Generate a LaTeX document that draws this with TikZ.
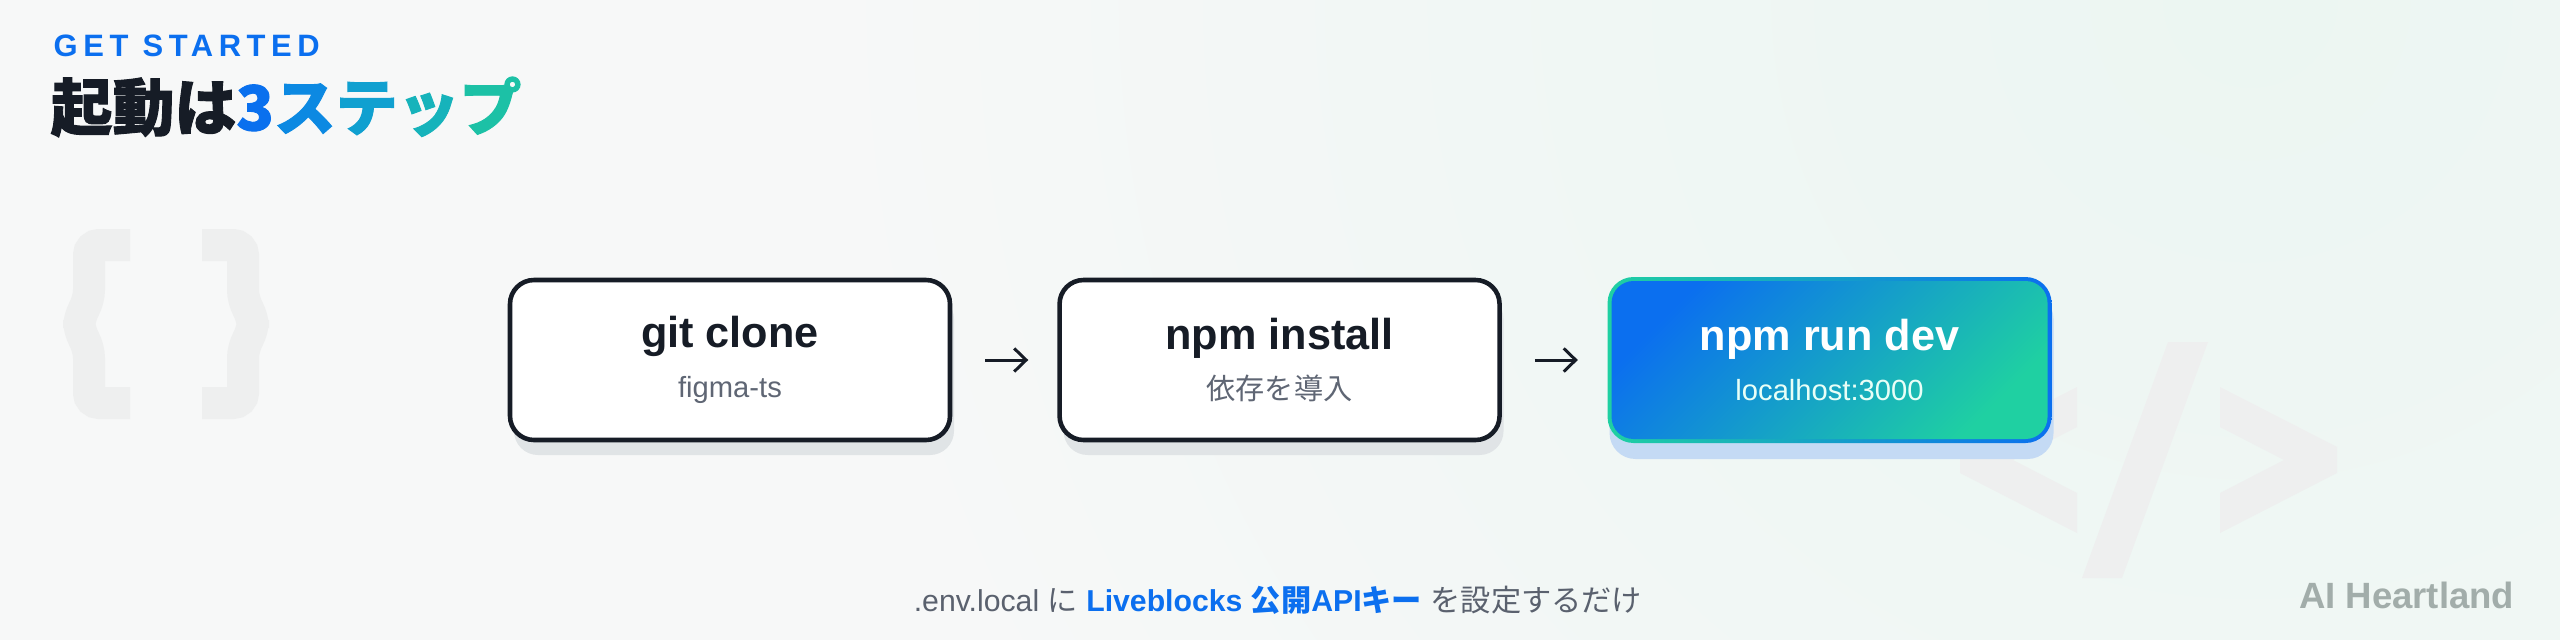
\documentclass[tikz,border=0pt]{standalone}
\usepackage{fontspec}
\setmainfont{Liberation Sans}
\newfontfamily\cjk{Noto Sans CJK JP}
\newfontfamily\cjkheavy{Noto Sans CJK JP}[FakeBold=1.5]
\newfontfamily\kickerfont{Liberation Sans}[LetterSpace=18]
\usetikzlibrary{arrows.meta, positioning, shadows}
\definecolor{bgbase}{HTML}{F7F8F8}
\definecolor{bgmint}{HTML}{ECF6F2}
\definecolor{inkdark}{HTML}{161C26}
\definecolor{subgray}{HTML}{5F6674}
\definecolor{notegray}{HTML}{5A616E}
\definecolor{devsub}{HTML}{E8FFF7}
\definecolor{brandblue}{HTML}{0B6FEF}
\definecolor{brandteal}{HTML}{1FD0A2}
\definecolor{markgray}{HTML}{EEEFEF}
\definecolor{shadegray}{HTML}{E0E4E6}
\definecolor{shadeblue}{HTML}{C4DAF4}
\definecolor{footgray}{HTML}{A2ADAA}
\definecolor{ttlone}{HTML}{0A70EE}
\definecolor{ttltwo}{HTML}{0C89E2}
\definecolor{ttlthree}{HTML}{10A0D0}
\definecolor{ttlfour}{HTML}{16B3BB}
\definecolor{ttlfive}{HTML}{1CC1A6}
\pgfdeclareradialshading{mintglow}{\pgfpointorigin}{color(0bp)=(bgmint); color(6bp)=(bgmint!70!bgbase); color(15bp)=(bgbase); color(50bp)=(bgbase)}
\newcommand{\steptext}[3]{{\bfseries #2}\\{\fontsize{8.3}{10}\selectfont\color{#1}#3}}

\begin{document}
\begin{tikzpicture}[
    x=0.1mm, y=0.1mm,
    stepcard/.style={draw=inkdark, line width=1.3pt, fill=white, rounded corners=2.4mm,
                     minimum width=4.4cm, minimum height=1.6cm, align=center,
                     text=inkdark, font=\fontsize{12.3}{14.2}\selectfont,
                     drop shadow={shadow xshift=0.4mm, shadow yshift=-1.5mm, fill=shadegray, opacity=1}},
    devcard/.style={rounded corners=2.6mm, minimum width=4.44cm, minimum height=1.66cm,
                    align=center, text=white, font=\fontsize{12.3}{14.2}\selectfont,
                    drop shadow={shadow xshift=0.2mm, shadow yshift=-1.6mm, fill=shadeblue, opacity=1},
                    path picture={
                      \shade[left color=brandteal, right color=brandblue]
                        (path picture bounding box.south west) rectangle (path picture bounding box.north east);
                      \shade[rounded corners=2.2mm, top color=brandblue, bottom color=brandteal, shading angle=45]
                        ([shift={(0.4mm,0.4mm)}]path picture bounding box.south west) rectangle
                        ([shift={(-0.4mm,-0.4mm)}]path picture bounding box.north east);
                    }},
    flow/.style={-{Straight Barb[length=3.4pt, width=6.6pt]}, line width=0.85pt, inkdark,
                 shorten <=0.33cm, shorten >=0.29cm}
  ]
    \useasboundingbox (0,0) rectangle (2560,-640);
    \begin{scope}
      \clip (0,0) rectangle (2560,-640);
      \shade[shading=mintglow] (-150,2400) rectangle (4650,-2400);
    \end{scope}

    % watermarks
    \draw[markgray, line width=3.2mm, rounded corners=1mm]
      (130,-245) -- (89,-245) -- (89,-300) -- (79,-318) -- (79,-330) -- (89,-348) -- (89,-403) -- (130,-403);
    \draw[markgray, line width=3.2mm, rounded corners=1mm]
      (202,-245) -- (243,-245) -- (243,-300) -- (253,-318) -- (253,-330) -- (243,-348) -- (243,-403) -- (202,-403);
    \fill[markgray] (2077,-387) -- (1960,-447) -- (1960,-473) -- (2077,-533) -- (2077,-493) -- (2013,-460) -- (2077,-427) -- cycle;
    \fill[markgray] (2220,-387) -- (2337,-447) -- (2337,-473) -- (2220,-533) -- (2220,-493) -- (2284,-460) -- (2220,-427) -- cycle;
    \fill[markgray] (2168,-342) -- (2208,-342) -- (2122,-578) -- (2082,-578) -- cycle;

    \node[anchor=west, inner sep=0, text=brandblue, font=\fontsize{8.8}{10}\selectfont\bfseries] (kicker) at (53,-46)
      {\kickerfont GET STARTED};
    \node[anchor=west, inner sep=0, font=\fontsize{17.6}{20}\selectfont] (title) at (50,-107)
      {\cjkheavy\bfseries\textcolor{inkdark}{起動は}\textcolor{ttlone}{3}\textcolor{ttltwo}{ス}\textcolor{ttlthree}{テ}\textcolor{ttlfour}{ッ}\textcolor{ttlfive}{プ}};

    \node[stepcard] (clone) at (730,-360) {\steptext{subgray}{git clone}{figma-ts}};
    \node[stepcard, right=1.05cm of clone] (install) {\steptext{subgray}{npm install}{\cjk 依存を導入}};
    \node[devcard, right=1.05cm of install] (dev) {\steptext{devsub}{npm run dev}{localhost:3000}};

    \draw[flow] (clone) -- (install);
    \draw[flow] (install) -- (dev);

    \node[inner sep=0, text=notegray, font=\fontsize{8.6}{10}\selectfont] (note) at (1278,-600)
      {.env.local {\cjk に} \textcolor{brandblue}{\bfseries Liveblocks {\cjk 公開}API{\cjk キー}} {\cjk を設定するだけ}};
    \node[anchor=east, inner sep=0, text=footgray, font=\fontsize{10.4}{12}\selectfont\bfseries] (brand) at (2515,-595)
      {AI Heartland};
  \end{tikzpicture}
\end{document}
